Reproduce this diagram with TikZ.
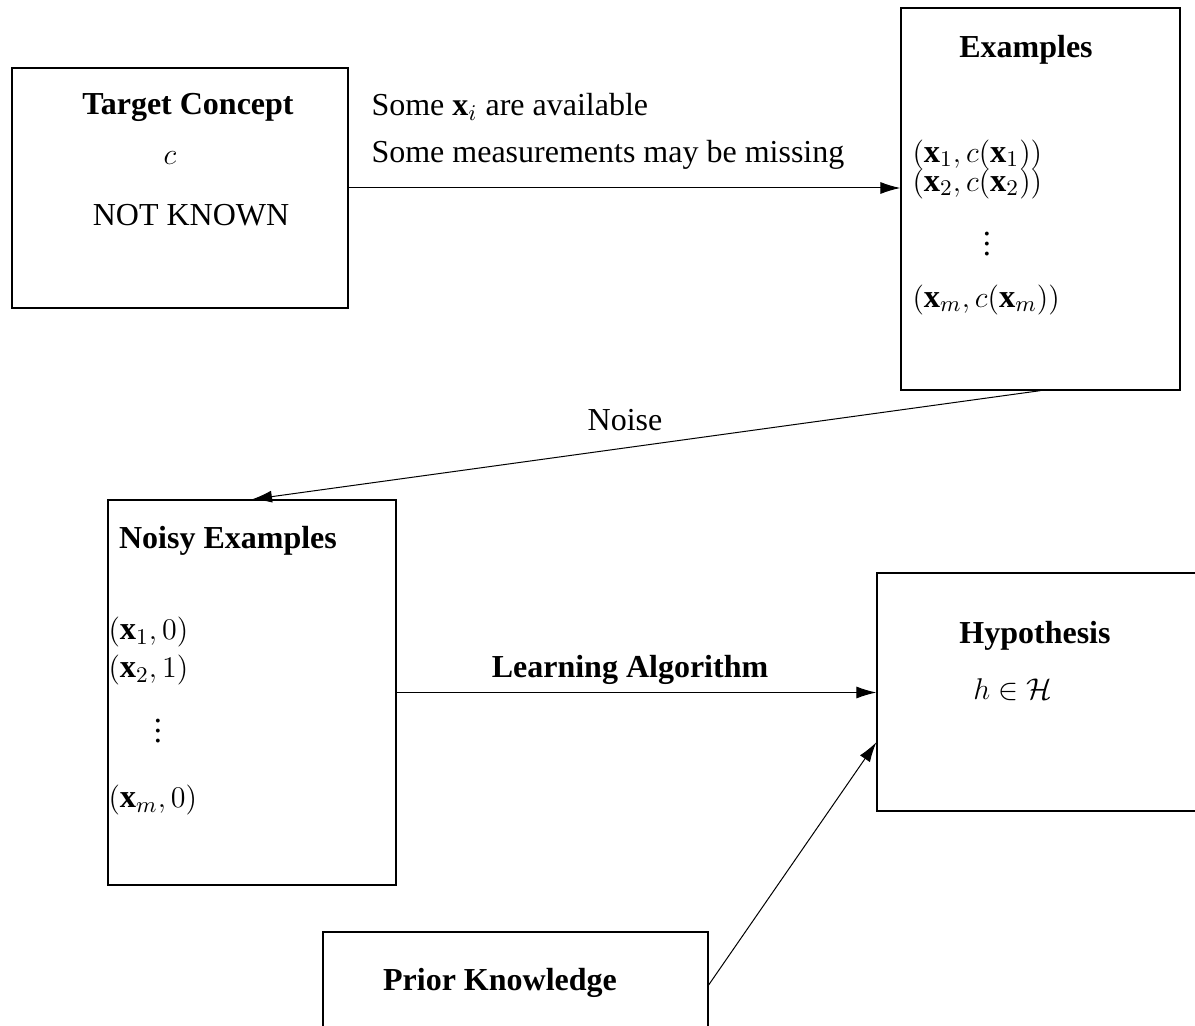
\documentclass[tikz,border=0pt]{standalone}
\usepackage{fontspec}
\setmainfont{Liberation Serif}
\usetikzlibrary{arrows.meta,calc}
\begin{document}
\begin{tikzpicture}[x=0.4pt,y=-0.4pt,
  box/.style={draw,line width=0.5pt,inner sep=0pt},
  txt/.style={inner sep=0pt,font=\fontsize{12.8}{15}\selectfont},
  mth/.style={inner sep=0pt,font=\fontsize{13}{15}\selectfont},
  ttl/.style={txt,font=\fontsize{12.8}{15}\selectfont\bfseries},
  arr/.style={line width=0.4pt,-{Latex[length=8pt,width=4.8pt]}}]
\useasboundingbox (0,0) rectangle (1195,1026);
\clip (0,0) rectangle (1195,1026);
% boxes
\node[box,minimum width=134.4pt,minimum height=96pt] (tc) at (180,188) {};
\node[box,minimum width=111.6pt,minimum height=152.8pt] (ex) at (1040.5,199) {};
\node[box,minimum width=115.2pt,minimum height=154pt] (ne) at (252,692.5) {};
\node[box,minimum width=129.2pt,minimum height=95.2pt] (hy) at (1038.5,692) {};
\node[box,minimum width=154pt,minimum height=42.4pt] (pk) at (515.5,985) {};
% texts
\node[ttl] (tct) at (188,107) {Target Concept};
\node[mth] (tcc) at (170,158) {$c$};
\node[txt] (tcn) at (191,215) {NOT KNOWN};
\node[txt,anchor=west] (l1) at (371,107) {Some $\mathbf{x}_i$ are available};
\node[txt,anchor=west] (l2) at (371,155) {Some measurements may be missing};
\node[ttl] (ext) at (1026,50) {Examples};
\node[mth,anchor=west] (e1) at (912,155) {$(\mathbf{x}_1,c(\mathbf{x}_1))$};
\node[mth,anchor=west] (e2) at (912,184) {$(\mathbf{x}_2,c(\mathbf{x}_2))$};
\node[mth] (e3) at (987,237) {$\vdots$};
\node[mth,anchor=west] (e4) at (912,300) {$(\mathbf{x}_m,c(\mathbf{x}_m))$};
\node[txt] (nl) at (625,420) {Noise};
\node[ttl] (net) at (228,541) {Noisy Examples};
\node[mth,anchor=west] (n1) at (108,632) {$(\mathbf{x}_1,0)$};
\node[mth,anchor=west] (n2) at (108,670) {$(\mathbf{x}_2,1)$};
\node[mth] (n3) at (158,724) {$\vdots$};
\node[mth,anchor=west] (n4) at (108,800) {$(\mathbf{x}_m,0)$};
\node[ttl] (la) at (630,670) {Learning Algorithm};
\node[ttl] (hyt) at (1035,636) {Hypothesis};
\node[mth] (hyh) at (1013,690) {$h\in\mathcal{H}$};
\node[ttl] (pkt) at (500,983) {Prior Knowledge};
% connectors
\draw[arr] (tc.east) -- (tc.east -| ex.west);
\draw[arr] (ex.south) -- (ne.north);
\draw[arr] (ne.east) -- (ne.east -| hy.west);
\coordinate (hyin) at ($(hy.south west)!0.29!(hy.north west)$);
\draw[arr] (pk.east) -- (hyin);
\end{tikzpicture}
\end{document}
